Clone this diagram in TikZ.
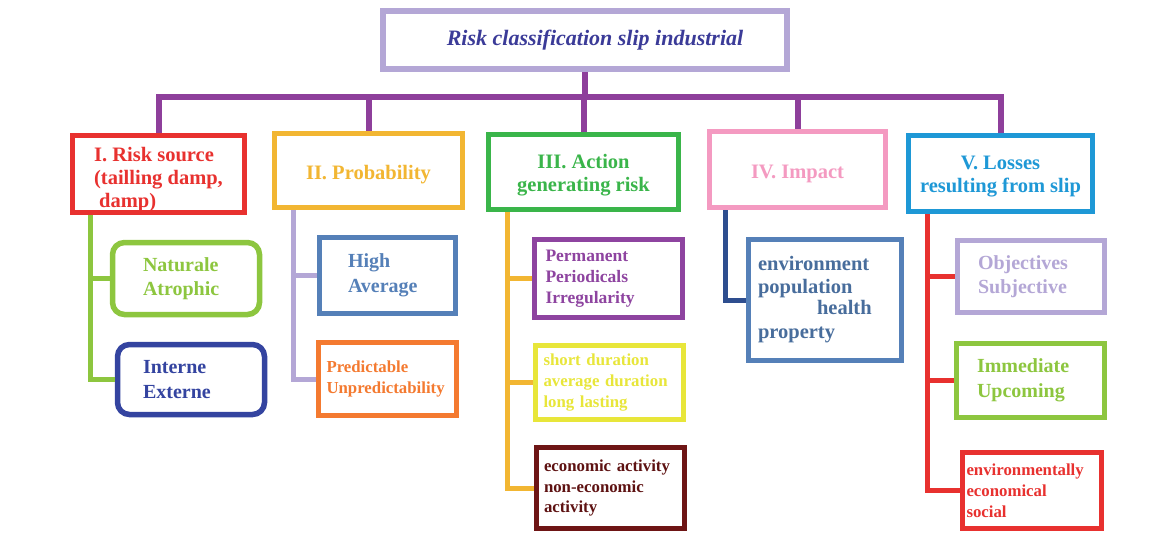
\documentclass[tikz,border=0pt]{standalone}
\usepackage{fontspec}
\setmainfont{Liberation Serif}
\definecolor{lavender}{HTML}{B4A7D6}
\definecolor{indigo}{HTML}{3B3B98}
\definecolor{buspurple}{HTML}{8E3F9B}
\definecolor{rsred}{HTML}{E8312F}
\definecolor{amber}{HTML}{F2B632}
\definecolor{grn}{HTML}{3AB54A}
\definecolor{pink}{HTML}{F49AC1}
\definecolor{sky}{HTML}{1E98D6}
\definecolor{lime}{HTML}{8DC63F}
\definecolor{navy}{HTML}{3444A0}
\definecolor{steel}{HTML}{5580B8}
\definecolor{orng}{HTML}{F47A30}
\definecolor{violet}{HTML}{8E44A0}
\definecolor{yel}{HTML}{E8E63A}
\definecolor{maroon}{HTML}{6E1515}
\definecolor{deepblue}{HTML}{2E4E8F}
\newcommand{\hdstrut}[1]{\rule{0pt}{#1pt}}
\tikzset{
  box/.style={draw=#1, text=#1, line width=5.5pt, fill=white, align=center,
    inner sep=0pt, font=\bfseries\fontsize{20.5}{23}\selectfont},
  leaf/.style={draw=#1, text=#1, line width=5.5pt, fill=white, align=left,
    inner ysep=0pt, font=\bfseries\fontsize{20}{24.5}\selectfont},
  small/.style={font=\bfseries\fontsize{16.8}{20.8}\selectfont},
  link/.style={draw=#1, line width=5pt},
  bus/.style={draw=buspurple, line width=6pt}
}
\begin{document}
\begin{tikzpicture}[x=1pt, y=-1pt]
\useasboundingbox (0,0) rectangle (1164,533);

% root
\node[box=lavender, text=indigo, font=\bfseries\itshape\fontsize{22}{24}\selectfont,
  minimum width=404pt, minimum height=58pt] (title) at (585,40)
  {\hspace*{20pt}Risk classification slip industrial};

% five headers
\node[box=rsred, align=left, minimum width=172pt, minimum height=77pt] (src) at (158.5,174)
  {\hdstrut{26}I. Risk source\\(tailling damp,\\\hspace*{5pt}damp)};
\node[box=amber, minimum width=188pt, minimum height=74pt] (prob) at (368.5,170.5) {\hdstrut{22}II. Probability};
\node[box=grn, minimum width=190pt, minimum height=75pt] (act) at (583.5,172) {\hdstrut{21}III. Action\\generating risk};
\node[box=pink, minimum width=176pt, minimum height=76pt] (imp) at (797.5,169.5) {\hdstrut{22}IV. Impact};
\node[box=sky, minimum width=184pt, minimum height=76pt] (loss) at (1000.5,173.5) {\hdstrut{20}V. Losses\\resulting from slip};

\coordinate (bus) at (0,97);
\draw[bus] (src.north) |- (bus -| loss.north) -- (loss.north);
\foreach \n in {prob,act,imp}
  \draw[bus] (\n.north) -- (\n.north |- bus);
\draw[bus] (title.south) -- (title.south |- bus);

% I. risk source
\node[leaf=lime, rounded corners=12pt, minimum height=72pt, text width=86pt, inner xsep=30.5pt] (nat) at (186,278.5) {Naturale\\Atrophic};
\node[leaf=navy, rounded corners=12pt, minimum height=70pt, text width=96pt, inner xsep=25.5pt] (int) at (191,379.5) {Interne\\Externe};
\draw[link=lime] ([xshift=20.5pt]src.south west) |- (nat.west);
\draw[link=lime] ([xshift=20.5pt]src.south west) |- (int.west);

% II. probability
\node[leaf=steel, minimum height=76pt, text width=79pt, inner xsep=28.5pt] (high) at (387.5,275.5) {High\\Average};
\node[leaf=orng, small, minimum height=73pt, text width=122pt, inner xsep=8pt] (pred) at (387.5,379) {Predictable\\Unpredictability};
\draw[link=lavender] ([xshift=21.5pt]prob.south west) |- (high.west);
\draw[link=lavender] ([xshift=21.5pt]prob.south west) |- (pred.west);

% III. action
\node[leaf=violet, font=\bfseries\fontsize{17.5}{21}\selectfont, minimum height=78pt, text width=126pt, inner xsep=11pt] (perm) at (608.5,278.5) {Permanent\\Periodicals\\Irregularity};
\node[leaf=yel, small, minimum height=74pt, text width=132pt, inner xsep=8pt] (dur) at (609.5,382.5) {short duration\\average duration\\long lasting};
\node[leaf=maroon, text=maroon!85!black, small, minimum height=81pt, text width=133pt, inner xsep=7.5pt] (eco) at (610.5,488) {economic activity\\non-economic\\activity};
\draw[link=amber] ([xshift=21.5pt]act.south west) |- (perm.west);
\draw[link=amber] ([xshift=21.5pt]act.south west) |- (dur.west);
\draw[link=amber] ([xshift=21.5pt]act.south west) |- (eco.west);

% IV. impact
\node[leaf=steel, text=steel!85!black, font=\bfseries\fontsize{20.5}{23}\selectfont, minimum height=121pt, text width=134pt, inner xsep=9.5pt] (env) at (825,300)
  {environment\\population\\[-2pt]\hspace*{59pt}health\\[1pt]property};
\draw[link=deepblue] ([xshift=18.5pt]imp.south west) |- (env.west);

% V. losses
\node[leaf=lavender, minimum height=72pt, text width=106pt, inner xsep=20.5pt] (obj) at (1031,276.5) {Objectives\\Subjective};
\node[leaf=lime, minimum height=74pt, text width=107pt, inner xsep=20.5pt] (imm) at (1030.5,380.5) {Immediate\\Upcoming};
\node[leaf=rsred, small, minimum height=76pt, text width=131pt, inner xsep=4pt] (soc) at (1032,490.5) {environmentally\\economical\\social};
\draw[link=rsred] ([xshift=21.5pt]loss.south west) |- (obj.west);
\draw[link=rsred] ([xshift=21.5pt]loss.south west) |- (imm.west);
\draw[link=rsred] ([xshift=21.5pt]loss.south west) |- (soc.west);
\end{tikzpicture}
\end{document}
